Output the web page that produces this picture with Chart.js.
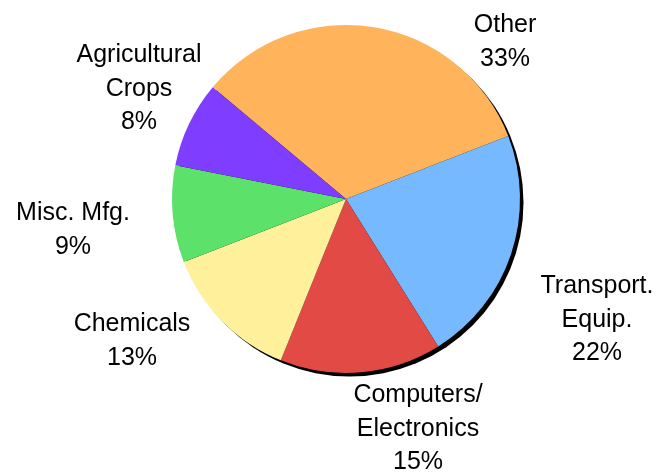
<!DOCTYPE html>
<html>
<head>
<meta charset="utf-8">
<script src="https://cdn.jsdelivr.net/npm/chart.js@4/dist/chart.umd.min.js"></script>
<style>
  html, body { margin: 0; padding: 0; background: #fff; }
  canvas { display: block; }
</style>
</head>
<body>
<canvas id="pieChart" width="666" height="473"></canvas>
<script>
const sectors = ["Other", "Transport. Equip.", "Computers/ Electronics", "Chemicals", "Misc. Mfg.", "Agricultural Crops"];
const shares = [33, 22, 15, 13, 9, 8];
const labelLines = [
  ["Other", "33%"],
  ["Transport.", "Equip.", "22%"],
  ["Computers/", "Electronics", "15%"],
  ["Chemicals", "13%"],
  ["Misc. Mfg.", "9%"],
  ["Agricultural", "Crops", "8%"],
];

const sliceColors = ["#FFB35A", "#76B9FF", "#E24A45", "#FFF19C", "#5CE26B", "#7F3DFF"];
// label anchor (center x, first baseline) relative to the pie centre
const labelOffsets = [[159, -167], [251, 94], [72, 203], [-214, 132], [-273, 21], [-207, -137]];

const shadowPlugin = {
  id: "pieShadow",
  beforeDatasetsDraw(chart) {
    const arc = chart.getDatasetMeta(0).data[0];
    const ctx = chart.ctx;
    ctx.save();
    ctx.fillStyle = "#000";
    ctx.beginPath();
    ctx.arc(arc.x + 3.5, arc.y + 3.5, arc.outerRadius, 0, Math.PI * 2);
    ctx.fill();
    ctx.restore();
  },
};

const labelPlugin = {
  id: "sliceLabels",
  afterDatasetsDraw(chart) {
    const arc = chart.getDatasetMeta(0).data[0];
    const ctx = chart.ctx;
    ctx.save();
    ctx.fillStyle = "#000";
    ctx.font = "25px 'Liberation Sans', Arial, sans-serif";
    ctx.textAlign = "center";
    ctx.textBaseline = "alphabetic";
    labelLines.forEach((lines, i) => {
      const [dx, dy] = labelOffsets[i];
      lines.forEach((line, j) => {
        ctx.fillText(line, arc.x + dx, arc.y + dy + j * 33.5);
      });
    });
    ctx.restore();
  },
};

new Chart(document.getElementById("pieChart"), {
  type: "pie",
  data: {
    labels: sectors,
    datasets: [{
      data: shares,
      backgroundColor: sliceColors,
      borderWidth: 0,
    }],
  },
  options: {
    responsive: false,
    animation: false,
    rotation: -50,
    layout: { padding: { left: 172, right: 146, top: 25, bottom: 100 } },
    plugins: {
      legend: { display: false },
      tooltip: { enabled: false },
    },
  },
  plugins: [shadowPlugin, labelPlugin],
});
</script>
</body>
</html>
